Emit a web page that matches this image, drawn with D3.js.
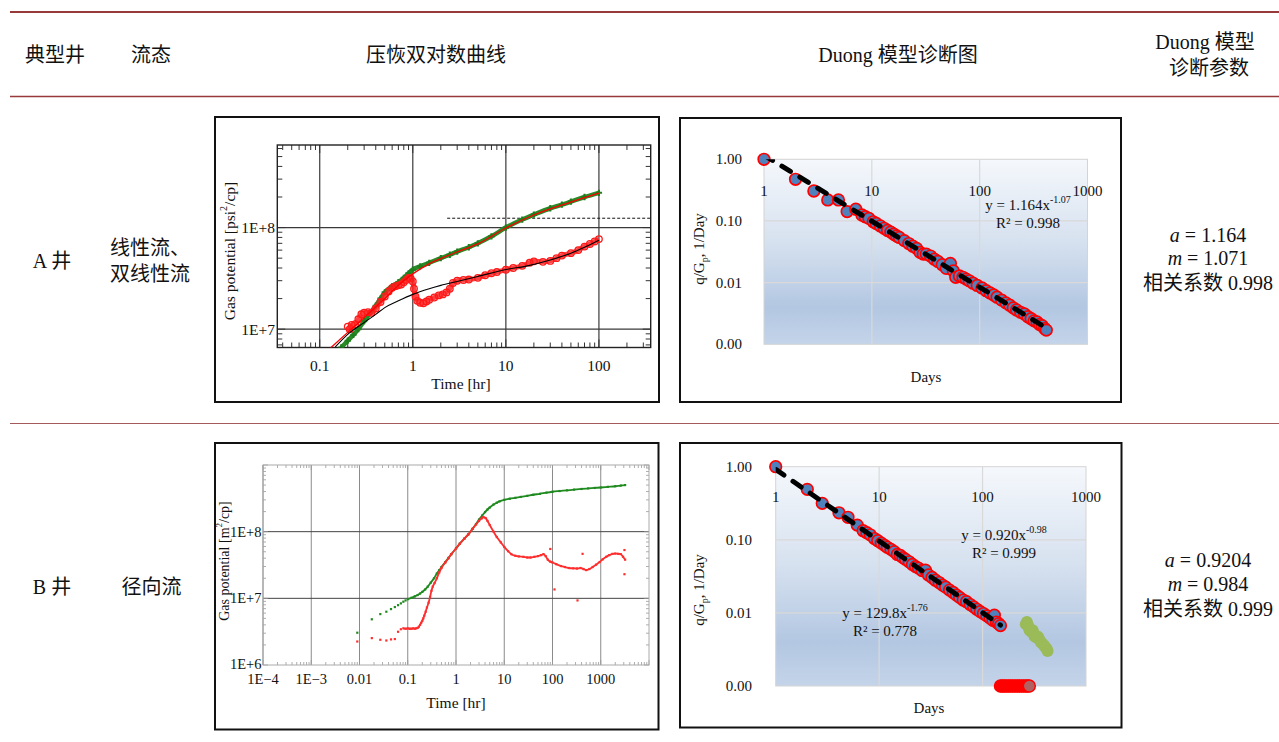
<!DOCTYPE html>
<html><head><meta charset="utf-8">
<script src="https://cdn.jsdelivr.net/npm/d3@7"></script>
<style>
body{margin:0;background:#fff;}
svg text{font-family:"Liberation Serif","Times New Roman","Noto Sans CJK SC",serif;fill:#111;}
</style></head><body>
<svg id="fig" width="1279" height="742"></svg>
<script>
// ---------- table text ----------
const headerTitles = ["典型井", "流态", "压恢双对数曲线", "Duong 模型诊断图"];
const headerLastCol = ["Duong 模型", "诊断参数"];
const wellNames = ["A 井", "B 井"];
const flowRegimes = [["线性流、", "双线性流"], ["径向流"]];
const duongA = ["1.164", "0.9204"];
const duongM = ["1.071", "0.984"];
const duongR = ["0.998", "0.999"];

// ---------- well A: pressure build-up log-log ----------
const a1XTicks = [0.1, 1, 10, 100];
const a1XTickText = ["0.1", "1", "10", "100"];
const a1YTicks = [1e7, 1e8];
const a1YTickText = ["1E+7", "1E+8"];
// pressure change (green)
const a1PressT = [0.17,0.2,0.23,0.26,0.3,0.35,0.4,0.45,0.5,0.6,0.7,0.8,0.9,1.0,1.2,1.5,2,2.5,3,4,5,7,10,15,20,30,40,50,70,100];
const a1PressV = [6.6e6,7.7e6,8.8e6,1.0e7,1.2e7,1.45e7,1.7e7,2.0e7,2.3e7,2.65e7,2.9e7,3.2e7,3.55e7,3.85e7,4.15e7,4.5e7,5.0e7,5.4e7,5.8e7,6.4e7,7.0e7,8.2e7,1.0e8,1.2e8,1.34e8,1.55e8,1.68e8,1.8e8,2.0e8,2.2e8];
// model match for pressure change (red line)
const a1PressFitT = [0.13,0.2,0.3,0.5,0.7,1,1.5,2,3,5,10,20,50,100];
const a1PressFitV = [6.5e6,9.3e6,1.3e7,2.0e7,2.7e7,3.5e7,4.4e7,4.95e7,5.75e7,6.9e7,9.9e7,1.33e8,1.78e8,2.18e8];
// pressure derivative (red circles)
const a1DerivT = [0.2,0.21,0.22,0.24,0.26,0.28,0.3,0.33,0.36,0.4,0.45,0.5,0.55,0.6,0.65,0.7,0.75,0.8,0.85,0.9,0.95,1.0,1.03,1.07,1.12,1.2,1.3,1.4,1.5,1.7,1.9,2.1,2.3,2.5,2.7,3.0,3.5,4,5,6,7,8,10,12,15,18,20,25,30,35,40,50,60,70,80,90,100];
const a1DerivV = [1.06e7,1.0e7,1.1e7,1.12e7,1.25e7,1.4e7,1.45e7,1.47e7,1.45e7,1.6e7,1.85e7,2.1e7,2.35e7,2.55e7,2.65e7,2.7e7,2.75e7,2.9e7,3.05e7,3.2e7,3.15e7,2.95e7,2.5e7,2.1e7,1.9e7,1.82e7,1.8e7,1.87e7,1.95e7,2.05e7,2.15e7,2.2e7,2.3e7,2.5e7,2.85e7,3.0e7,3.05e7,3.08e7,3.2e7,3.4e7,3.55e7,3.65e7,3.85e7,4.0e7,4.2e7,4.5e7,4.65e7,4.6e7,4.7e7,5.0e7,5.3e7,5.6e7,6.0e7,6.5e7,6.9e7,7.3e7,7.7e7];
// model match for derivative (black line)
const a1DerivFitT = [0.147,0.2,0.3,0.4,0.5,0.7,1,1.5,2,3,5,10,17,30,50,70,100];
const a1DerivFitV = [6.7e6,8.9e6,1.16e7,1.4e7,1.63e7,1.9e7,2.2e7,2.5e7,2.7e7,2.95e7,3.3e7,3.86e7,4.2e7,4.8e7,5.6e7,6.4e7,7.5e7];
// horizontal reference level
const a1RefStart = 2.34;
const a1RefLevel = 1.236e8;

// ---------- well A: Duong diagnostic ----------
const a2Days = [1,1.96,2.9,3.9,4.9,5.9,7.1,8.1,8.7,9.4,10.3,11,12,13,14,15,16,17,18,20,22,24,26,28,30,32,35,38,41,45,49,53.5,57,60,65,70,75,80,87,95,105,115,125,135,145,160,175,190,205,220,240,260,280,300,320,340,360,380,400,415];
const a2Ratio = [1.0,0.474,0.306,0.219,0.219,0.142,0.155,0.125,0.117,0.11,0.097,0.091,0.083,0.076,0.07,0.066,0.061,0.057,0.054,0.048,0.043,0.039,0.036,0.031,0.029,0.029,0.027,0.024,0.022,0.0195,0.017,0.0205,0.0155,0.0122,0.0128,0.0122,0.0114,0.0107,0.0098,0.009,0.0082,0.0074,0.0068,0.0063,0.0058,0.0052,0.0047,0.0043,0.0039,0.0036,0.0033,0.0031,0.0028,0.0026,0.0024,0.0023,0.0021,0.002,0.0018,0.0017];
const a2TrendCoef = 1.164, a2TrendExp = -1.07, a2TrendR2 = 0.998;

// ---------- well B: pressure build-up log-log ----------
const b1XTicks = [1e-4, 1e-3, 0.01, 0.1, 1, 10, 100, 1000];
const b1XTickText = ["1E\u22124", "1E\u22123", "0.01", "0.1", "1", "10", "100", "1000"];
const b1YTicks = [1e6, 1e7, 1e8];
const b1YTickText = ["1E+6", "1E+7", "1E+8"];
const b1PressEarlyT = [0.009,0.018,0.027,0.036,0.045,0.054,0.063,0.072,0.081,0.09];
const b1PressEarlyV = [3.05e6,4.85e6,5.8e6,6.3e6,6.9e6,7.4e6,7.9e6,8.4e6,8.9e6,9.3e6];
const b1PressT = [0.1,0.12,0.14,0.16,0.18,0.2,0.23,0.26,0.3,0.35,0.4,0.45,0.5,0.6,0.7,0.8,1,1.2,1.5,1.8,2.2,2.6,3,3.5,4,4.5,5,6,7,8,10,13,17,22,30,40,55,75,100,140,200,280,400,550,750,1000,1400,2000,2600,3200];
const b1PressV = [9.7e6,1.02e7,1.07e7,1.12e7,1.18e7,1.25e7,1.36e7,1.5e7,1.72e7,2.0e7,2.35e7,2.65e7,2.95e7,3.5e7,4.05e7,4.6e7,5.6e7,6.6e7,7.9e7,9.1e7,1.1e8,1.3e8,1.52e8,1.75e8,1.97e8,2.15e8,2.3e8,2.55e8,2.72e8,2.85e8,3.0e8,3.12e8,3.22e8,3.32e8,3.45e8,3.58e8,3.7e8,3.85e8,3.97e8,4.07e8,4.17e8,4.27e8,4.37e8,4.45e8,4.53e8,4.6e8,4.7e8,4.8e8,4.92e8,5.0e8];
const b1DerivEarlyT = [0.009,0.018,0.027,0.036,0.045,0.054,0.063,0.072];
const b1DerivEarlyV = [2.25e6,2.53e6,2.39e6,2.33e6,2.42e6,2.45e6,3.15e6,3.44e6];
const b1DerivT = [0.081,0.09,0.1,0.11,0.12,0.13,0.14,0.15,0.16,0.17,0.18,0.19,0.2,0.21,0.22,0.235,0.25,0.27,0.29,0.31,0.33,0.36,0.4,0.45,0.5,0.6,0.7,0.8,1,1.2,1.5,1.8,2.2,2.6,3,3.4,3.7,4.1,4.5,5,6,7,8.5,10,12,14,17,20,25,30,35,42,50,58,65,72,80,90,100,120,150,180,220,270,320,380,440,500,580,680,800,950,1100,1300,1500,1750,2000,2300,2600,2900,3200];
const b1DerivV = [3.55e6,3.5e6,3.55e6,3.5e6,3.5e6,3.55e6,3.5e6,3.55e6,3.6e6,3.75e6,4.0e6,4.3e6,4.6e6,5.0e6,5.5e6,6.3e6,7.3e6,8.6e6,1.05e7,1.3e7,1.5e7,1.7e7,2.0e7,2.45e7,2.85e7,3.45e7,4.0e7,4.6e7,5.6e7,6.6e7,7.9e7,9.1e7,1.1e8,1.28e8,1.45e8,1.58e8,1.65e8,1.6e8,1.45e8,1.26e8,1.0e8,8.3e7,6.9e7,5.9e7,5.1e7,4.6e7,4.35e7,4.25e7,4.2e7,4.1e7,4.1e7,4.2e7,4.3e7,4.45e7,4.6e7,4.3e7,3.8e7,3.55e7,3.45e7,3.25e7,3.05e7,2.95e7,2.85e7,2.82e7,2.8e7,2.85e7,2.75e7,2.65e7,2.75e7,2.95e7,3.2e7,3.5e7,3.85e7,4.2e7,4.45e7,4.65e7,4.7e7,4.65e7,4.6e7,4.2e7,3.8e7];
const b1DerivStrayT = [90,110,330,420,3100,3100];
const b1DerivStrayV = [5.5e7,1.36e7,9.3e6,4.65e7,5.3e7,2.3e7];

// ---------- well B: Duong diagnostic ----------
const b2Days = [1,2.02,2.82,4.09,5.0,6.14,7,7.6,8.2,9,9.7,10.5,11.3,12,13,14,15,16,17,18,19.5,21,22.5,24,26,28,30,32.5,35,38,41,44,48,52,56,60,65,70,76,82,88,95,102,110,118,126,130,136,143,149];
const b2Ratio = [1.0,0.49,0.315,0.234,0.203,0.159,0.133,0.125,0.117,0.104,0.097,0.09,0.084,0.079,0.074,0.069,0.063,0.061,0.057,0.054,0.05,0.046,0.043,0.041,0.038,0.0385,0.033,0.0305,0.028,0.026,0.024,0.0225,0.0205,0.019,0.0175,0.0163,0.015,0.0142,0.013,0.0121,0.0112,0.0104,0.0098,0.0091,0.0085,0.0079,0.0093,0.0075,0.0071,0.0067];
const b2LateDays = [262,268,275,280,285,295,305,312,318,330,345,355,365,378,392,405,418,425];
const b2LateRatio = [0.0070,0.0075,0.0068,0.0062,0.0058,0.0055,0.0058,0.0052,0.0048,0.0046,0.0047,0.0043,0.0040,0.0038,0.0036,0.0034,0.0032,0.0030];
const b2ZeroDays = [149,155,162,170,178,187,196,206,216,227,238,250,262,274,283];
const b2ZeroRatio = [0,0,0,0,0,0,0,0,0,0,0,0,0,0,0];
const b2TrendCoef = 0.920, b2TrendExp = -0.98, b2TrendR2 = 0.999;
const b2LateCoef = 129.8, b2LateExp = -1.76, b2LateR2 = 0.778;

const duongXTicks = [1, 10, 100, 1000];
const duongYTicks = [1, 0.1, 0.01, 0.001];

// =====================================================================
const svg = d3.select("#fig");
const defs = svg.append("defs");
const zip = (a, b) => a.map((v, i) => [v, b[i]]);

function text(g, x, y, str, size, anchor = "middle") {
  return g.append("text").attr("x", x).attr("y", y)
    .attr("font-size", size).attr("text-anchor", anchor)
    .attr("dominant-baseline", "central").text(str);
}

// ---------- table rules ----------
svg.append("line").attr("x1", 10).attr("x2", 1279).attr("y1", 12).attr("y2", 12)
  .attr("stroke", "#983a3a").attr("stroke-width", 2);
svg.append("line").attr("x1", 10).attr("x2", 1279).attr("y1", 96.5).attr("y2", 96.5)
  .attr("stroke", "#983a3a").attr("stroke-width", 1.6);
svg.append("line").attr("x1", 10).attr("x2", 1279).attr("y1", 423.5).attr("y2", 423.5)
  .attr("stroke", "#a45a5a").attr("stroke-width", 1);

// ---------- table text ----------
const headerX = [55, 151, 436, 898];
headerTitles.forEach((s, i) => text(svg, headerX[i], 55, s, 20));
text(svg, 1205, 42, headerLastCol[0], 20);
text(svg, 1209, 68, headerLastCol[1], 20);

const rowY = [261, 587];
wellNames.forEach((s, i) => text(svg, 52, rowY[i], s, 20));
text(svg, 110, 248, flowRegimes[0][0], 20, "start");
text(svg, 110, 274, flowRegimes[0][1], 20, "start");
text(svg, 151.5, 587, flowRegimes[1][0], 20);

const paramY = [[235, 258, 283], [560, 584, 609]];
[0, 1].forEach(i => {
  const ta = text(svg, 1208, paramY[i][0], "", 20);
  ta.append("tspan").attr("font-style", "italic").text("a");
  ta.append("tspan").text(" = " + duongA[i]);
  const tm = text(svg, 1208, paramY[i][1], "", 20);
  tm.append("tspan").attr("font-style", "italic").text("m");
  tm.append("tspan").text(" = " + duongM[i]);
  text(svg, 1208, paramY[i][2], "相关系数 " + duongR[i], 20);
});

// ---------- chart boxes ----------
[[215, 117, 444, 285], [680, 118, 441, 284], [215, 443, 443.5, 286.5], [680, 443, 441.5, 284.5]]
  .forEach(([x, y, w, h]) => svg.append("rect").attr("x", x).attr("y", y).attr("width", w).attr("height", h)
    .attr("fill", "none").attr("stroke", "#111").attr("stroke-width", 2));

function clip(id, x0, y0, x1, y1) {
  defs.append("clipPath").attr("id", id).append("rect")
    .attr("x", x0).attr("y", y0).attr("width", x1 - x0).attr("height", y1 - y0);
  return `url(#${id})`;
}

function logSteps(scale) {
  const [a, b] = d3.extent(scale.domain());
  const out = [];
  for (let n = Math.floor(Math.log10(a)); n <= Math.ceil(Math.log10(b)); n++)
    for (let k = 1; k <= 9; k++) {
      const v = k * Math.pow(10, n);
      if (v >= a * 0.9999 && v <= b * 1.0001) out.push({ v, major: k === 1 });
    }
  return out;
}

// frame with inward ticks on all four sides
function tickFrame(g, x, y, color, majLen, minLen, width) {
  const [x0, x1] = x.range(), [y0, y1] = y.range();
  logSteps(x).forEach(t => {
    const px = x(t.v), L = t.major ? majLen : minLen;
    g.append("line").attr("x1", px).attr("x2", px).attr("y1", y0).attr("y2", y0 - L).attr("stroke", color).attr("stroke-width", width);
    g.append("line").attr("x1", px).attr("x2", px).attr("y1", y1).attr("y2", y1 + L).attr("stroke", color).attr("stroke-width", width);
  });
  logSteps(y).forEach(t => {
    const py = y(t.v), L = t.major ? majLen : minLen;
    g.append("line").attr("x1", x0).attr("x2", x0 + L).attr("y1", py).attr("y2", py).attr("stroke", color).attr("stroke-width", width);
    g.append("line").attr("x1", x1).attr("x2", x1 - L).attr("y1", py).attr("y2", py).attr("stroke", color).attr("stroke-width", width);
  });
}

// =====================================================================
// Well A: pressure build-up
(function () {
  const g = svg.append("g");
  const x = d3.scaleLog().domain([0.035, 360]).range([277.3, 650.7]);
  const y = d3.scaleLog().domain([6.6e6, 6.5e8]).range([347.5, 145]);
  const cp = clip("clipA1", 277.3, 145, 650.7, 347.5);

  a1XTicks.forEach(v => g.append("line").attr("x1", x(v)).attr("x2", x(v)).attr("y1", 145).attr("y2", 347.5)
    .attr("stroke", "#3a3a3a").attr("stroke-width", 1.2));
  a1YTicks.forEach(v => g.append("line").attr("x1", 277.3).attr("x2", 650.7).attr("y1", y(v)).attr("y2", y(v))
    .attr("stroke", "#3a3a3a").attr("stroke-width", 1.2));
  tickFrame(g, x, y, "#333", 8, 5, 1);
  g.append("rect").attr("x", 277.3).attr("y", 145).attr("width", 650.7 - 277.3).attr("height", 347.5 - 145)
    .attr("fill", "none").attr("stroke", "#222").attr("stroke-width", 1.4);

  a1XTicks.forEach((v, i) => text(g, x(v), 365, a1XTickText[i], 15.5));
  a1YTicks.forEach((v, i) => text(g, 275, y(v), a1YTickText[i], 15.5, "end"));
  text(g, 461, 383, "Time [hr]", 15.5);
  const yt = text(g, 0, 0, "", 15.5).attr("transform", "translate(229,251) rotate(-90)");
  yt.append("tspan").text("Gas potential [psi");
  yt.append("tspan").attr("baseline-shift", "super").attr("font-size", 10).text("2");
  yt.append("tspan").text("/cp]");

  const pg = g.append("g").attr("clip-path", cp);
  const line = d3.line().x(d => x(d[0])).y(d => y(d[1])).curve(d3.curveMonotoneX);

  pg.append("line").attr("x1", x(a1RefStart)).attr("x2", 650.7).attr("y1", y(a1RefLevel)).attr("y2", y(a1RefLevel))
    .attr("stroke", "#111").attr("stroke-width", 1).attr("stroke-dasharray", "3,2");

  const press = zip(a1PressT, a1PressV);
  pg.append("path").attr("d", line(press)).attr("fill", "none").attr("stroke", "#2a8a2a").attr("stroke-width", 4.5);
  pg.selectAll(".pm").data(press).join("path").attr("class", "pm")
    .attr("transform", d => `translate(${x(d[0])},${y(d[1])})`)
    .attr("d", d3.symbol(d3.symbolCross, 22)).attr("fill", "#1f7f1f");

  const deriv = zip(a1DerivT, a1DerivV);
  pg.append("path").attr("d", line(deriv)).attr("fill", "none").attr("stroke", "#ff2020")
    .attr("stroke-width", 5).attr("stroke-opacity", 0.85);
  pg.selectAll(".dm").data(deriv).join("circle").attr("class", "dm")
    .attr("cx", d => x(d[0])).attr("cy", d => y(d[1])).attr("r", 3.3)
    .attr("fill", "none").attr("stroke", "#ff1a1a").attr("stroke-width", 1.3);

  pg.append("path").attr("d", line(zip(a1PressFitT, a1PressFitV))).attr("fill", "none").attr("stroke", "#ff0000").attr("stroke-width", 1.3);
  pg.append("path").attr("d", line(zip(a1DerivFitT, a1DerivFitV))).attr("fill", "none").attr("stroke", "#000").attr("stroke-width", 1.1);
})();

// =====================================================================
// Well B: pressure build-up
(function () {
  const g = svg.append("g");
  const x = d3.scaleLog().domain([1e-4, 1e4]).range([263, 649]);
  const y = d3.scaleLog().domain([1e6, 1e9]).range([665, 465]);
  const cp = clip("clipB1", 263, 465, 649, 665);

  b1XTicks.forEach(v => g.append("line").attr("x1", x(v)).attr("x2", x(v)).attr("y1", 465).attr("y2", 665)
    .attr("stroke", "#8a8a8a").attr("stroke-width", 1));
  b1YTicks.slice(1).forEach(v => g.append("line").attr("x1", 263).attr("x2", 649).attr("y1", y(v)).attr("y2", y(v))
    .attr("stroke", "#444").attr("stroke-width", 1));
  tickFrame(g, x, y, "#999", 5, 3, 0.8);
  g.append("rect").attr("x", 263).attr("y", 465).attr("width", 386).attr("height", 200)
    .attr("fill", "none").attr("stroke", "#aaa").attr("stroke-width", 1);

  b1XTicks.forEach((v, i) => text(g, x(v), 679, b1XTickText[i], 14.5));
  b1YTicks.forEach((v, i) => text(g, 261.5, y(v) - (i === 0 ? 1.5 : 0), b1YTickText[i], 14.5, "end"));
  text(g, 456, 702, "Time [hr]", 15.5);
  const yt = text(g, 0, 0, "", 14).attr("transform", "translate(224,561) rotate(-90)");
  yt.append("tspan").text("Gas potential [m");
  yt.append("tspan").attr("baseline-shift", "super").attr("font-size", 9).text("2");
  yt.append("tspan").text("/cp]");

  const pg = g.append("g").attr("clip-path", cp);
  const line = d3.line().x(d => x(d[0])).y(d => y(d[1])).curve(d3.curveMonotoneX);
  const dots = (data, color, cls) => pg.selectAll("." + cls).data(data).join("rect").attr("class", cls)
    .attr("x", d => x(d[0]) - 1.1).attr("y", d => y(d[1]) - 1.1).attr("width", 2.2).attr("height", 2.2).attr("fill", color);

  const green = "#1f8a1f", red = "#ff2e2e";
  const press = zip(b1PressT, b1PressV);
  pg.append("path").attr("d", line(press)).attr("fill", "none").attr("stroke", green).attr("stroke-width", 1.8);
  dots(zip(b1PressEarlyT, b1PressEarlyV), green, "pe");
  dots(press, green, "pp");

  const deriv = zip(b1DerivT, b1DerivV);
  pg.append("path").attr("d", line(deriv)).attr("fill", "none").attr("stroke", red).attr("stroke-width", 1.8);
  dots(zip(b1DerivEarlyT, b1DerivEarlyV), red, "de");
  dots(deriv, red, "dd");
  dots(zip(b1DerivStrayT, b1DerivStrayV), red, "ds");
})();

// =====================================================================
// Duong diagnostic plot (shared drawing)
function duongPlot(id, box, pts, trends, extraLayers) {
  const g = svg.append("g");
  const { left, right, top, bottom } = box;
  const x = d3.scaleLog().domain([1, 1000]).range([left, right]);
  const y = d3.scaleLog().domain([0.001, 1]).range([bottom, top]);
  const grad = defs.append("linearGradient").attr("id", "bg" + id).attr("x1", 0).attr("y1", 0).attr("x2", 0).attr("y2", 1);
  [[0, "#f5f8fc"], [0.45, "#d6e1ef"], [0.8, "#b3c7e2"], [1, "#c4d4e9"]]
    .forEach(([o, c]) => grad.append("stop").attr("offset", o).attr("stop-color", c));
  g.append("rect").attr("x", left).attr("y", top).attr("width", right - left).attr("height", bottom - top)
    .attr("fill", `url(#bg${id})`).attr("stroke", "#d4d4d4").attr("stroke-width", 1);
  duongXTicks.slice(1, 3).forEach(v => g.append("line").attr("x1", x(v)).attr("x2", x(v)).attr("y1", top).attr("y2", bottom)
    .attr("stroke", "#d9d9d9").attr("stroke-width", 1.2));
  duongYTicks.slice(1, 3).forEach(v => g.append("line").attr("x1", left).attr("x2", right).attr("y1", y(v)).attr("y2", y(v))
    .attr("stroke", "#d9d9d9").attr("stroke-width", 1.2));

  duongYTicks.forEach(v => text(g, box.yLabelX, y(v), v.toFixed(2), 15, "end"));
  duongXTicks.forEach(v => text(g, x(v), box.xLabelY, String(v), 15));
  text(g, box.daysX, box.daysY, "Days", 15);
  const yt = text(g, 0, 0, "", 15).attr("transform", `translate(699,${box.titleY}) rotate(-90)`);
  yt.append("tspan").text("q/G");
  yt.append("tspan").attr("baseline-shift", "sub").attr("font-size", 10).text("p");
  yt.append("tspan").text(", 1/Day");

  const cp = clip("clip" + id, left - 8, top - 8, right + 8, bottom + 8);
  const pg = g.append("g").attr("clip-path", cp);
  if (extraLayers) extraLayers(pg, x, y);
  pg.selectAll(".pt").data(pts).join("circle").attr("class", "pt")
    .attr("cx", d => x(d[0])).attr("cy", d => y(d[1])).attr("r", 5.8)
    .attr("fill", "#4f81bd").attr("stroke", "#ff0000").attr("stroke-width", 1.7);

  const inner = clip("clipIn" + id, left, top, right, bottom);
  trends.forEach(t => {
    const ends = [t.from, t.to].map(d => [d, t.coef * Math.pow(d, t.exp)]);
    g.append("path").attr("clip-path", inner)
      .attr("d", d3.line().x(d => x(d[0])).y(d => y(d[1]))(ends))
      .attr("fill", "none").attr("stroke", "#000").attr("stroke-width", 5)
      .attr("stroke-linecap", "round").attr("stroke-dasharray", "10,11");
  });
  return g;
}

function equation(g, cx, cy, coef, exp, r2, coefDigits) {
  const t = text(g, cx, cy, "", 15);
  t.append("tspan").text(`y = ${coef.toFixed(coefDigits)}x`);
  t.append("tspan").attr("baseline-shift", "super").attr("font-size", 10).text(exp.toFixed(2));
  text(g, cx, cy + 18, `R² = ${r2.toFixed(3)}`, 15);
}

// Well A
{
  const g = duongPlot("A2",
    { left: 764, right: 1087.5, top: 159.3, bottom: 344.3, yLabelX: 742, xLabelY: 191, daysX: 926, daysY: 377, titleY: 249 },
    zip(a2Days, a2Ratio),
    [{ coef: a2TrendCoef, exp: a2TrendExp, from: 1, to: a2Days[a2Days.length - 1] }]);
  equation(g, 1028, 205, a2TrendCoef, a2TrendExp, a2TrendR2, 3);
}

// Well B
{
  const yMin = 0.001;
  const g = duongPlot("B2",
    { left: 775.7, right: 1086, top: 466.7, bottom: 686, yLabelX: 752, xLabelY: 497, daysX: 929, daysY: 708, titleY: 590 },
    zip(b2Days, b2Ratio),
    [{ coef: b2TrendCoef, exp: b2TrendExp, from: 1, to: b2Days[b2Days.length - 1] }],
    (pg, x, y) => {
      pg.selectAll(".late").data(zip(b2LateDays, b2LateRatio)).join("circle").attr("class", "late")
        .attr("cx", d => x(d[0])).attr("cy", d => y(d[1])).attr("r", 6).attr("fill", "#9bbb59");
      const zeros = zip(b2ZeroDays, b2ZeroRatio);
      pg.selectAll(".zero").data(zeros).join("circle").attr("class", "zero")
        .attr("cx", d => x(d[0])).attr("cy", d => y(Math.max(d[1], yMin))).attr("r", 6)
        .attr("fill", (d, i) => i === zeros.length - 1 ? "#b06262" : "#ff0000")
        .attr("stroke", "#ff0000").attr("stroke-width", 1.5);
    });
  equation(g, 1004, 535, b2TrendCoef, b2TrendExp, b2TrendR2, 3);
  equation(g, 885, 613, b2LateCoef, b2LateExp, b2LateR2, 1);
}
</script>
</body></html>
